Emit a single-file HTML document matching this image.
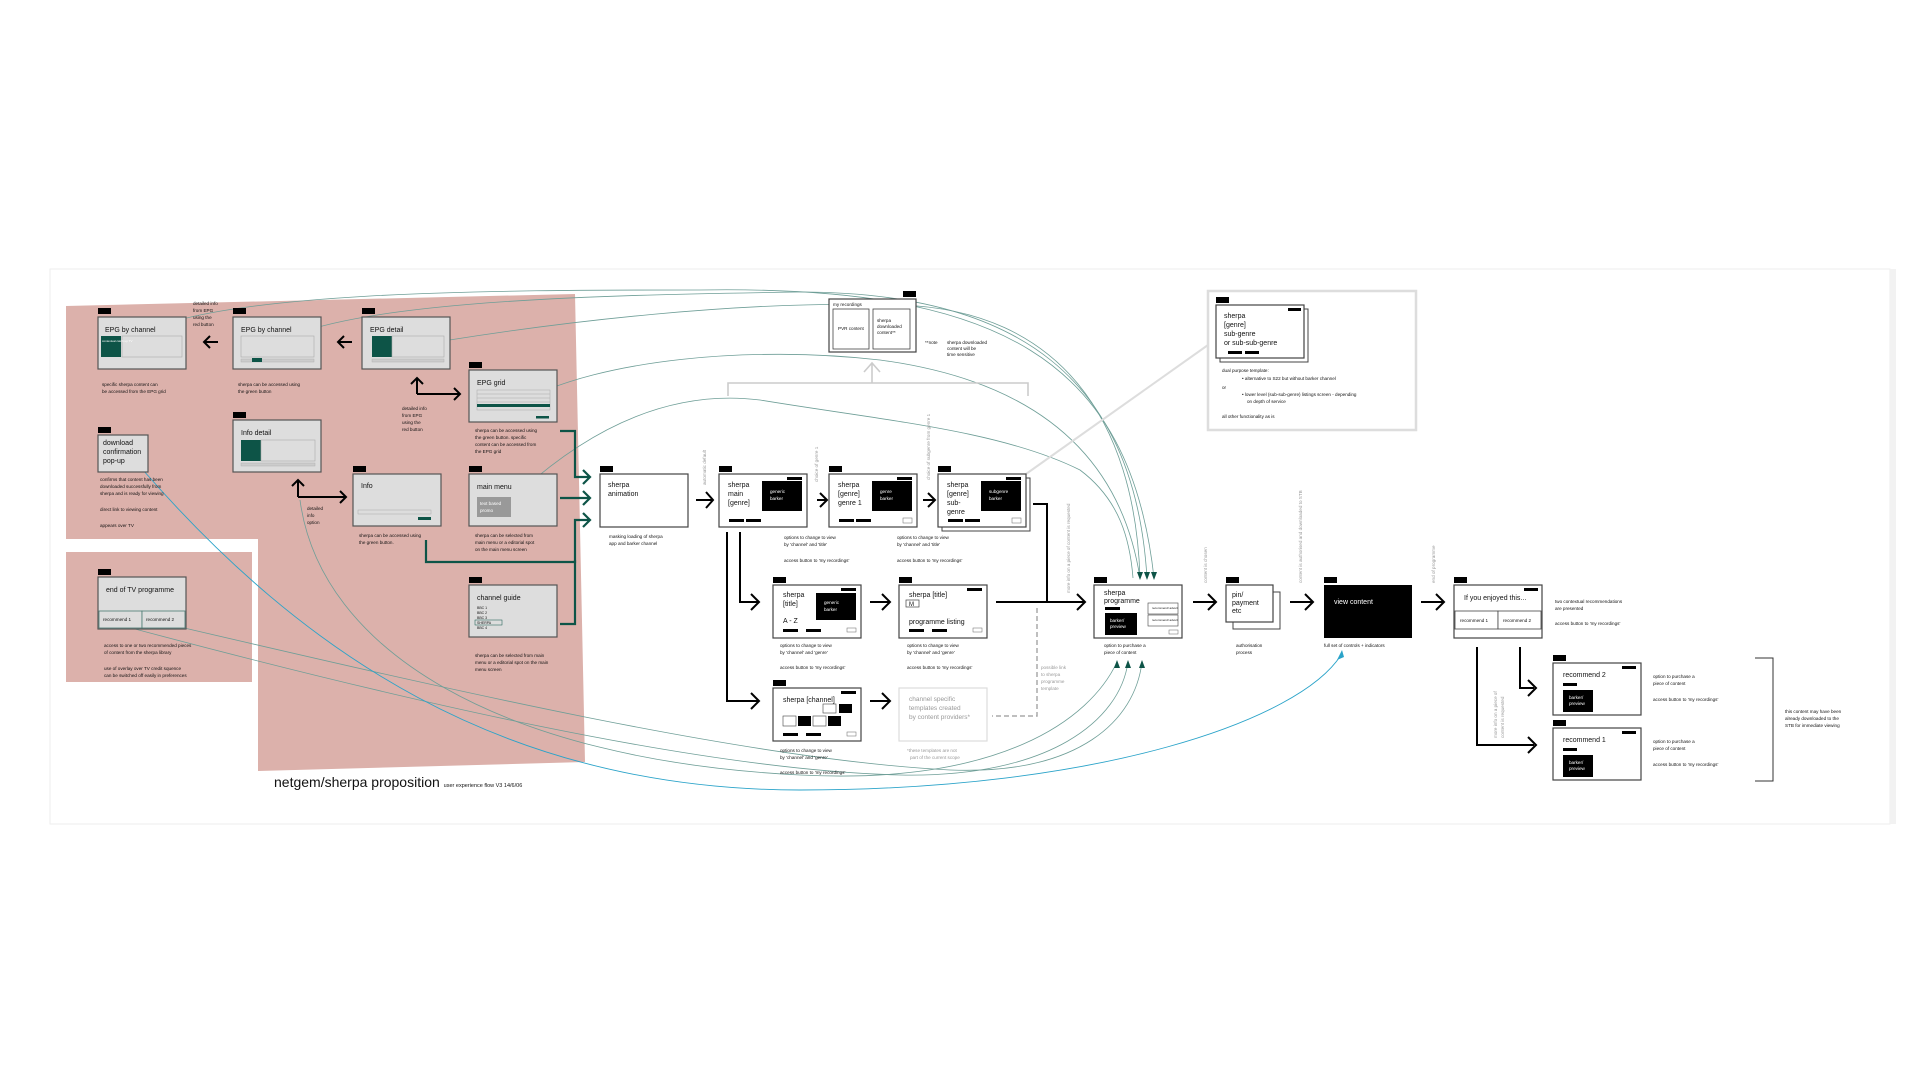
<!DOCTYPE html>
<html><head><meta charset="utf-8"><style>
html,body{margin:0;padding:0;background:#fff;}
svg{display:block;font-family:"Liberation Sans",sans-serif;}
.t{font-size:7px;fill:#111}
.d{font-size:4.6px;fill:#111}
.g{font-size:4.6px;fill:#999}
.tag{fill:#000}
.mb{fill:#ddd;stroke:#555;stroke-width:1.2}
.sb{fill:#fff;stroke:#444;stroke-width:1.2}
.ar{fill:none;stroke:#000;stroke-width:2}
.gr{fill:none;stroke:#0d5447;stroke-width:2.2}
.cv{fill:none;stroke:#6e9e97;stroke-width:0.8}
.bl{fill:none;stroke:#2aa3c9;stroke-width:0.9}
</style></head><body>
<svg width="1920" height="1080" viewBox="0 0 1920 1080">
<rect x="0" y="0" width="1920" height="1080" fill="#fff"/>
<rect x="50" y="269" width="1840" height="555" fill="#fff" stroke="#eee" stroke-width="1"/>
<rect x="1890" y="269" width="6" height="555" fill="#f2f2f2"/>
<!-- pink areas -->
<polygon points="66,306 575,294 585,762 258,771 258,539 66,539" fill="#dcb1ab"/>
<rect x="66" y="552" width="186" height="130" fill="#dcb1ab"/>

<!-- curves -->
<path class="cv" d="M130,340 C200,290 500,290 700,290 C1000,285 1130,360 1154,578"/>
<path class="cv" d="M258,360 C290,300 600,295 800,292 C1020,292 1135,380 1147,578"/>
<path class="cv" d="M390,350 C560,320 750,300 900,305 C1060,310 1135,420 1140,578"/>
<path class="cv" d="M525,400 C600,360 750,345 880,360 C1030,380 1120,450 1140,578"/>
<path class="cv" d="M522,490 C600,420 680,390 760,400 C880,420 1000,430 1080,470 C1120,500 1130,540 1133,578"/>
<path class="cv" d="M300,500 C320,650 500,760 800,775 C1000,785 1090,720 1117,662"/>
<path class="cv" d="M120,625 C400,700 700,770 900,775 C1050,778 1120,720 1128,662"/>
<path class="cv" d="M150,620 C450,690 750,760 950,770 C1080,775 1135,720 1142,662"/>
<path class="bl" d="M143,470 C300,650 500,790 800,790 C1100,790 1300,720 1341,655"/>
<polygon points="1137,572 1143,572 1140,580" fill="#0d5447"/>
<polygon points="1144,572 1150,572 1147,580" fill="#0d5447"/>
<polygon points="1151,572 1157,572 1154,580" fill="#0d5447"/>
<polygon points="1114,668 1120,668 1117,660" fill="#0d5447"/>
<polygon points="1125,668 1131,668 1128,660" fill="#0d5447"/>
<polygon points="1139,668 1145,668 1142,660" fill="#0d5447"/>
<polygon points="1337,660 1344,657 1342,650" fill="#2aa3c9"/>
<line x1="1026" y1="474" x2="1208" y2="345" stroke="#ddd" stroke-width="2"/>

<!-- M221 -->
<rect class="tag" x="98" y="308" width="13" height="6"/>
<rect class="mb" x="98" y="317" width="88" height="52"/>
<text class="t" x="105" y="332">EPG by channel</text>
<rect x="101" y="336" width="20" height="21" fill="#0d5447"/><rect x="122" y="336" width="60" height="21" fill="#ddd" stroke="#aaa" stroke-width=".6"/>
<text class="d" x="102" y="342" fill="#fff" style="fill:#fff;font-size:3px">contextual catch up TV</text>
<text class="d" x="102" y="386">specific sherpa content can</text><text class="d" x="102" y="393">be accessed from the EPG grid</text>
<text class="d" x="193" y="305">detailed info</text><text class="d" x="193" y="312">from EPG</text><text class="d" x="193" y="319">using the</text><text class="d" x="193" y="326">red button</text>
<!-- M22 -->
<rect class="tag" x="233" y="308" width="13" height="6"/>
<rect class="mb" x="233" y="317" width="88" height="52"/>
<text class="t" x="241" y="332">EPG by channel</text>
<rect x="241" y="336" width="73" height="21" fill="#ddd" stroke="#aaa" stroke-width=".6"/><rect x="241" y="359" width="73" height="3" fill="#ccc" stroke="#aaa" stroke-width=".4"/><rect x="252" y="358" width="10" height="4" fill="#0d5447"/>
<text class="d" x="238" y="386">sherpa can be accessed using</text><text class="d" x="238" y="393">the green button</text>
<!-- M21 -->
<rect class="tag" x="362" y="308" width="13" height="6"/>
<rect class="mb" x="362" y="317" width="88" height="52"/>
<text class="t" x="370" y="332">EPG detail</text>
<rect x="372" y="336" width="20" height="21" fill="#0d5447"/><rect x="392" y="336" width="52" height="21" fill="#ddd" stroke="#aaa" stroke-width=".6"/><rect x="372" y="359" width="72" height="3" fill="#ccc" stroke="#aaa" stroke-width=".4"/>
<!-- arrows left -->
<path class="ar" d="M218,342 H204 M210,336 L204,342 L210,348"/>
<path class="ar" d="M352,342 H338 M344,336 L338,342 L344,348"/>
<path class="ar" d="M417,394 V378 M411,384 L417,378 L423,384 M417,394 H460 M454,388 L460,394 L454,400"/>
<text class="d" x="402" y="410">detailed info</text><text class="d" x="402" y="417">from EPG</text><text class="d" x="402" y="424">using the</text><text class="d" x="402" y="431">red button</text>
<!-- M2 -->
<rect class="tag" x="469" y="362" width="13" height="6"/>
<rect class="mb" x="469" y="370" width="88" height="52"/>
<text class="t" x="477" y="385">EPG grid</text>
<rect x="477" y="390" width="73" height="20" fill="#ddd" stroke="#aaa" stroke-width=".5"/>
<line x1="477" y1="394" x2="550" y2="394" stroke="#aaa" stroke-width=".5"/><line x1="477" y1="398" x2="550" y2="398" stroke="#aaa" stroke-width=".5"/><line x1="477" y1="402" x2="550" y2="402" stroke="#aaa" stroke-width=".5"/>
<rect x="477" y="404" width="73" height="3" fill="#0d5447"/><rect x="536" y="416" width="13" height="2.5" fill="#0d5447"/>
<text class="d" x="475" y="432">sherpa can be accessed using</text><text class="d" x="475" y="439">the green button. specific</text><text class="d" x="475" y="446">content can be accessed from</text><text class="d" x="475" y="453">the EPG grid</text>
<!-- S241 -->
<rect class="tag" x="98" y="427" width="13" height="6"/>
<rect class="mb" x="98" y="435" width="50" height="37"/>
<text class="t" x="103" y="445">download</text><text class="t" x="103" y="454">confirmation</text><text class="t" x="103" y="463">pop-up</text>
<text class="d" x="100" y="481">confirms that content has been</text><text class="d" x="100" y="488">downloaded successfully from</text><text class="d" x="100" y="495">sherpa and is ready for viewing</text>
<text class="d" x="100" y="511">direct link to viewing content</text><text class="d" x="100" y="527">appears over TV</text>
<!-- M41 -->
<rect class="tag" x="233" y="412" width="13" height="6"/>
<rect class="mb" x="233" y="420" width="88" height="52"/>
<text class="t" x="241" y="435">Info detail</text>
<rect x="241" y="440" width="20" height="21" fill="#0d5447"/><rect x="261" y="440" width="54" height="21" fill="#ddd" stroke="#aaa" stroke-width=".6"/><rect x="241" y="463" width="74" height="3" fill="#ccc" stroke="#aaa" stroke-width=".4"/>
<path class="ar" d="M298,497 V480 M292,486 L298,480 L304,486 M298,497 H346 M340,491 L346,497 L340,503"/>
<text class="d" x="307" y="510">detailed</text><text class="d" x="307" y="517">info</text><text class="d" x="307" y="524">option</text>
<!-- M4 -->
<rect class="tag" x="353" y="466" width="13" height="6"/>
<rect class="mb" x="353" y="474" width="88" height="52"/>
<text class="t" x="361" y="488">Info</text>
<rect x="358" y="510" width="73" height="4" fill="#ddd" stroke="#aaa" stroke-width=".5"/><rect x="418" y="517" width="13" height="3" fill="#0d5447"/>
<text class="d" x="359" y="537">sherpa can be accessed using</text><text class="d" x="359" y="544">the green button.</text>
<!-- M1 -->
<rect class="tag" x="469" y="466" width="13" height="6"/>
<rect class="mb" x="469" y="474" width="88" height="52"/>
<text class="t" x="477" y="489">main menu</text>
<rect x="477" y="497" width="34" height="20" fill="#999"/>
<text class="d" x="480" y="505" style="fill:#fff">text based</text><text class="d" x="480" y="512" style="fill:#fff">promo</text>
<text class="d" x="475" y="537">sherpa can be selected from</text><text class="d" x="475" y="544">main menu or a editorial spot</text><text class="d" x="475" y="551">on the main menu screen</text>
<!-- M3 -->
<rect class="tag" x="469" y="577" width="13" height="6"/>
<rect class="mb" x="469" y="585" width="88" height="52"/>
<text class="t" x="477" y="600">channel guide</text>
<text class="d" x="477" y="609" style="font-size:3.5px">BBC 1</text><text class="d" x="477" y="614" style="font-size:3.5px">BBC 2</text><text class="d" x="477" y="619" style="font-size:3.5px">BBC 3</text><text class="d" x="477" y="624" style="font-size:3.5px">SHERPA</text><text class="d" x="477" y="629" style="font-size:3.5px">BBC 4</text>
<rect x="475" y="620" width="27" height="5" fill="none" stroke="#0d5447" stroke-width=".5"/>
<text class="d" x="475" y="657">sherpa can be selected from main</text><text class="d" x="475" y="664">menu or a editorial spot on the main</text><text class="d" x="475" y="671">menu screen</text>
<!-- M5 -->
<rect class="tag" x="98" y="569" width="13" height="6"/>
<rect class="mb" x="98" y="577" width="88" height="52"/>
<text class="t" x="106" y="592">end of TV programme</text>
<rect x="99" y="611" width="43" height="17" fill="#ddd" stroke="#4a7a72" stroke-width=".8"/><rect x="142" y="611" width="43" height="17" fill="#ddd" stroke="#4a7a72" stroke-width=".8"/>
<text class="d" x="103" y="621">recommend 1</text><text class="d" x="146" y="621">recommend 2</text>
<text class="d" x="104" y="647">access to one or two recommended pieces</text><text class="d" x="104" y="654">of content from the sherpa library</text>
<text class="d" x="104" y="670">use of overlay over TV credit squence</text><text class="d" x="104" y="677">can be switched off easily in preferences</text>

<!-- green connectors -->
<path class="gr" d="M560,431 H575 V477 H590 M583,470 L590,477 L583,484"/>
<path class="gr" d="M560,498 H590 M583,491 L590,498 L583,505"/>
<path class="gr" d="M426,540 V562 H575 V520 H590 M583,513 L590,520 L583,527"/>
<path class="gr" d="M560,624 H575 V560"/>

<!-- S1 -->
<rect class="tag" x="600" y="466" width="13" height="6"/>
<rect class="sb" x="600" y="474" width="88" height="53"/>
<text class="t" x="608" y="487">sherpa</text><text class="t" x="608" y="496">animation</text>
<text class="d" x="609" y="538">masking loading of sherpa</text><text class="d" x="609" y="545">app and barker channel</text>
<path class="ar" d="M696,500 H713 M706,492 L713,500 L706,508"/>
<text class="g" transform="translate(706,485) rotate(-90)">automatic default</text>
<!-- S2 -->
<rect class="tag" x="719" y="466" width="13" height="6"/>
<rect class="sb" x="719" y="474" width="88" height="53"/>
<text class="t" x="728" y="487">sherpa</text><text class="t" x="728" y="496">main</text><text class="t" x="728" y="505">[genre]</text>
<rect x="762" y="481" width="40" height="30" fill="#000"/><text class="d" x="770" y="493" style="fill:#fff">generic</text><text class="d" x="770" y="500" style="fill:#fff">barker</text>
<rect x="787" y="477" width="15" height="3" fill="#000"/>
<rect x="729" y="519" width="15" height="3" fill="#000"/><rect x="746" y="519" width="15" height="3" fill="#000"/>
<path class="ar" d="M817,500 H826 M820,493 L827,500 L820,507"/>
<text class="g" transform="translate(818,482) rotate(-90)">choice of genre 1</text>
<!-- S21 -->
<rect class="tag" x="829" y="466" width="13" height="6"/>
<rect class="sb" x="829" y="474" width="88" height="53"/>
<text class="t" x="838" y="487">sherpa</text><text class="t" x="838" y="496">[genre]</text><text class="t" x="838" y="505">genre 1</text>
<rect x="872" y="481" width="40" height="30" fill="#000"/><text class="d" x="880" y="493" style="fill:#fff">genre</text><text class="d" x="880" y="500" style="fill:#fff">barker</text>
<rect x="897" y="477" width="15" height="3" fill="#000"/>
<rect x="839" y="519" width="15" height="3" fill="#000"/><rect x="856" y="519" width="15" height="3" fill="#000"/><rect x="903" y="518" width="9" height="5" fill="#fff" stroke="#666" stroke-width=".5"/>
<text class="d" x="784" y="539">options to change to view</text><text class="d" x="784" y="546">by 'channel' and 'title'</text><text class="d" x="784" y="562">access button to 'my recordings'</text>
<text class="d" x="897" y="539">options to change to view</text><text class="d" x="897" y="546">by 'channel' and 'title'</text><text class="d" x="897" y="562">access button to 'my recordings'</text>
<path class="ar" d="M923,500 H934 M928,493 L935,500 L928,507"/>
<text class="g" transform="translate(930,480) rotate(-90)">choice of subgenre from genre 1</text>
<!-- S22 -->
<rect x="942" y="478" width="88" height="53" fill="#fff" stroke="#444" stroke-width="1"/>
<rect class="tag" x="938" y="466" width="13" height="6"/>
<rect class="sb" x="938" y="474" width="88" height="53"/>
<text class="t" x="947" y="487">sherpa</text><text class="t" x="947" y="496">[genre]</text><text class="t" x="947" y="505">sub-</text><text class="t" x="947" y="514">genre</text>
<rect x="981" y="481" width="40" height="30" fill="#000"/><text class="d" x="989" y="493" style="fill:#fff">subgenre</text><text class="d" x="989" y="500" style="fill:#fff">barker</text>
<rect x="1006" y="477" width="15" height="3" fill="#000"/>
<rect x="948" y="519" width="15" height="3" fill="#000"/><rect x="965" y="519" width="15" height="3" fill="#000"/><rect x="1012" y="518" width="9" height="5" fill="#fff" stroke="#666" stroke-width=".5"/>
<path class="ar" d="M1033,504 H1047 V602"/>
<text class="g" transform="translate(1070,593) rotate(-90)">more info on a piece of content is requested</text>

<!-- M6 -->
<rect class="tag" x="903" y="291" width="13" height="6"/>
<rect class="sb" x="829" y="299" width="87" height="53"/>
<text class="d" x="833" y="306">my recordings</text>
<rect x="833" y="309" width="36" height="40" fill="#fff" stroke="#444" stroke-width=".8"/><rect x="873" y="309" width="37" height="40" fill="#fff" stroke="#444" stroke-width=".8"/>
<text class="d" x="838" y="330">PVR content</text><text class="d" x="877" y="322">sherpa</text><text class="d" x="877" y="328">downloaded</text><text class="d" x="877" y="334">content**</text>
<text class="d" x="925" y="344">**note</text><text class="d" x="947" y="344">sherpa downloaded</text><text class="d" x="947" y="350">content will be</text><text class="d" x="947" y="356">time sensitive</text>
<path d="M728,396 V383 H1028 V396 M872,383 V363 M864,372 L872,363 L880,372" fill="none" stroke="#ccc" stroke-width="1.6"/>

<!-- S221 panel -->
<rect x="1208" y="291" width="208" height="139" fill="#fff" stroke="#ddd" stroke-width="2.5"/>
<rect class="tag" x="1216" y="297" width="13" height="6"/>
<rect x="1220" y="309" width="88" height="53" fill="#fff" stroke="#444"/>
<rect class="sb" x="1216" y="305" width="88" height="53"/>
<text class="t" x="1224" y="318">sherpa</text><text class="t" x="1224" y="327">[genre]</text><text class="t" x="1224" y="336">sub-genre</text><text class="t" x="1224" y="345">or sub-sub-genre</text>
<rect x="1288" y="308" width="13" height="3" fill="#000"/><rect x="1228" y="351" width="14" height="3" fill="#000"/><rect x="1245" y="351" width="14" height="3" fill="#000"/>
<text class="d" x="1222" y="372">dual purpose template:</text>
<text class="d" x="1242" y="380">• alternative to S22 but without barker channel</text>
<text class="d" x="1222" y="389">or</text>
<text class="d" x="1242" y="396">• lower level (sub-sub-genre) listings screen - depending</text>
<text class="d" x="1247" y="403">on depth of service</text>
<text class="d" x="1222" y="418">all other functionality as is</text>

<!-- S2 branches -->
<path class="ar" d="M740,532 V602 H758 M751,594 L759,602 L751,610"/>
<path class="ar" d="M727,532 V701 H758 M751,693 L759,701 L751,709"/>
<!-- S3 -->
<rect class="tag" x="773" y="577" width="13" height="6"/>
<rect class="sb" x="773" y="585" width="88" height="53"/>
<text class="t" x="783" y="597">sherpa</text><text class="t" x="783" y="606">[title]</text><text class="t" x="783" y="623">A - Z</text>
<rect x="816" y="593" width="40" height="27" fill="#000"/><text class="d" x="824" y="604" style="fill:#fff">generic</text><text class="d" x="824" y="611" style="fill:#fff">barker</text>
<rect x="841" y="588" width="15" height="3" fill="#000"/><rect x="783" y="629" width="15" height="3" fill="#000"/><rect x="806" y="629" width="15" height="3" fill="#000"/><rect x="847" y="628" width="9" height="4" fill="#fff" stroke="#666" stroke-width=".5"/>
<text class="d" x="780" y="647">options to change to view</text><text class="d" x="780" y="654">by 'channel' and 'genre'</text><text class="d" x="780" y="669">access button to 'my recordings'</text>
<path class="ar" d="M870,602 H889 M882,594 L890,602 L882,610"/>
<!-- S31 -->
<rect class="tag" x="899" y="577" width="13" height="6"/>
<rect class="sb" x="899" y="585" width="88" height="53"/>
<text class="t" x="909" y="597">sherpa [title]</text>
<rect x="906" y="600" width="13" height="7" fill="#fff" stroke="#444" stroke-width=".7"/><text class="d" x="909" y="606" style="font-size:6px">M</text>
<text class="t" x="909" y="624">programme listing</text>
<rect x="967" y="588" width="15" height="3" fill="#000"/><rect x="909" y="629" width="15" height="3" fill="#000"/><rect x="932" y="629" width="15" height="3" fill="#000"/><rect x="973" y="628" width="9" height="4" fill="#fff" stroke="#666" stroke-width=".5"/>
<text class="d" x="907" y="647">options to change to view</text><text class="d" x="907" y="654">by 'channel' and 'genre'</text><text class="d" x="907" y="669">access button to 'my recordings'</text>
<path class="ar" d="M996,602 H1085 M1077,594 L1085,602 L1077,610"/>
<path d="M1037,608 V716 H992" fill="none" stroke="#aaa" stroke-width="1.5" stroke-dasharray="5,3"/>
<text class="g" x="1041" y="669">possible link</text><text class="g" x="1041" y="676">to sherpa</text><text class="g" x="1041" y="683">programme</text><text class="g" x="1041" y="690">template</text>
<!-- S4 -->
<rect class="tag" x="773" y="680" width="13" height="6"/>
<rect class="sb" x="773" y="688" width="88" height="53"/>
<text class="t" x="783" y="702">sherpa [channel]</text>
<rect x="841" y="691" width="15" height="3" fill="#000"/>
<rect x="823" y="704" width="13" height="9" fill="#fff" stroke="#444" stroke-width=".6"/><rect x="839" y="704" width="13" height="9" fill="#000"/>
<rect x="783" y="716" width="13" height="10" fill="#fff" stroke="#444" stroke-width=".6"/><rect x="798" y="716" width="13" height="10" fill="#000"/><rect x="813" y="716" width="13" height="10" fill="#fff" stroke="#444" stroke-width=".6"/><rect x="828" y="716" width="13" height="10" fill="#000"/>
<rect x="783" y="733" width="15" height="3" fill="#000"/><rect x="806" y="733" width="15" height="3" fill="#000"/><rect x="847" y="732" width="9" height="4" fill="#fff" stroke="#666" stroke-width=".5"/>
<text class="d" x="780" y="752">options to change to view</text><text class="d" x="780" y="759">by 'channel' and 'genre'</text><text class="d" x="780" y="774">access button to 'my recordings'</text>
<path class="ar" d="M870,701 H889 M882,693 L890,701 L882,709"/>
<rect x="899" y="688" width="88" height="53" fill="#fff" stroke="#ddd" stroke-width="1.2"/>
<text class="g" x="909" y="701" style="font-size:6.5px">channel specific</text><text class="g" x="909" y="710" style="font-size:6.5px">templates created</text><text class="g" x="909" y="719" style="font-size:6.5px">by content providers*</text>
<text class="g" x="907" y="752">*these templates are not</text><text class="g" x="910" y="759">part of the current scope</text>

<!-- S23 -->
<rect class="tag" x="1094" y="577" width="13" height="6"/>
<rect class="sb" x="1094" y="585" width="88" height="53"/>
<text class="t" x="1104" y="595">sherpa</text><text class="t" x="1104" y="603">programme</text>
<rect x="1105" y="607" width="15" height="3" fill="#000"/>
<rect x="1105" y="613" width="32" height="22" fill="#000"/><text class="d" x="1110" y="622" style="fill:#fff">barker/</text><text class="d" x="1110" y="628" style="fill:#fff">preview</text>
<rect x="1148" y="603" width="30" height="11" fill="#fff" stroke="#444" stroke-width=".6"/><rect x="1148" y="615" width="30" height="11" fill="#fff" stroke="#444" stroke-width=".6"/>
<text class="d" x="1152" y="609" style="font-size:3px">recommend/ advert</text><text class="d" x="1152" y="621" style="font-size:3px">recommend/ advert</text>
<rect x="1169" y="630" width="9" height="4" fill="#fff" stroke="#666" stroke-width=".5"/>
<text class="d" x="1104" y="647">option to purchase a</text><text class="d" x="1104" y="654">piece of content</text>
<path class="ar" d="M1193,602 H1215 M1208,594 L1216,602 L1208,610"/>
<text class="g" transform="translate(1207,583) rotate(-90)">content is chosen</text>
<!-- S24 -->
<rect class="tag" x="1226" y="577" width="13" height="6"/>
<rect x="1233" y="592" width="47" height="37" fill="#fff" stroke="#444"/>
<rect class="sb" x="1226" y="585" width="47" height="37"/>
<text class="t" x="1232" y="597">pin/</text><text class="t" x="1232" y="605">payment</text><text class="t" x="1232" y="613">etc</text>
<text class="d" x="1236" y="647">authorisation</text><text class="d" x="1236" y="654">process</text>
<path class="ar" d="M1290,602 H1312 M1305,594 L1313,602 L1305,610"/>
<text class="g" transform="translate(1302,583) rotate(-90)">content is authorised and downloaded to STB</text>
<!-- S25 -->
<rect class="tag" x="1324" y="577" width="13" height="6"/>
<rect x="1324" y="585" width="88" height="53" fill="#000"/>
<text class="t" x="1334" y="604" style="fill:#fff">view content</text>
<text class="d" x="1324" y="647">full set of controls + indicators</text>
<path class="ar" d="M1421,602 H1443 M1436,594 L1444,602 L1436,610"/>
<text class="g" transform="translate(1435,583) rotate(-90)">end of programme</text>
<!-- S26 -->
<rect class="tag" x="1454" y="577" width="13" height="6"/>
<rect class="sb" x="1454" y="585" width="88" height="53"/>
<text class="t" x="1464" y="600">If you enjoyed this...</text>
<rect x="1524" y="588" width="14" height="3" fill="#000"/>
<rect x="1455" y="611" width="43" height="18" fill="#fff" stroke="#444" stroke-width=".8"/><rect x="1498" y="611" width="43" height="18" fill="#fff" stroke="#444" stroke-width=".8"/>
<text class="d" x="1460" y="622">recommend 1</text><text class="d" x="1503" y="622">recommend 2</text>
<text class="d" x="1555" y="603">two contextual recommendations</text><text class="d" x="1555" y="610">are presented</text><text class="d" x="1555" y="625">access button to 'my recordings'</text>
<path class="ar" d="M1520,647 V688 H1534 M1528,680 L1536,688 L1528,696"/>
<path class="ar" d="M1477,647 V745 H1534 M1528,737 L1536,745 L1528,753"/>
<text class="g" transform="translate(1497,738) rotate(-90)">more info on a piece of</text><text class="g" transform="translate(1504,738) rotate(-90)">content is requested</text>
<!-- S28 -->
<rect class="tag" x="1553" y="655" width="13" height="6"/>
<rect class="sb" x="1553" y="663" width="88" height="52"/>
<text class="t" x="1563" y="677">recommend 2</text>
<rect x="1622" y="666" width="14" height="3" fill="#000"/><rect x="1563" y="683" width="14" height="3" fill="#000"/>
<rect x="1563" y="690" width="30" height="22" fill="#000"/><text class="d" x="1569" y="699" style="fill:#fff">barker/</text><text class="d" x="1569" y="705" style="fill:#fff">preview</text>
<text class="d" x="1653" y="678">option to purchase a</text><text class="d" x="1653" y="685">piece of content</text><text class="d" x="1653" y="701">access button to 'my recordings'</text>
<!-- S27 -->
<rect class="tag" x="1553" y="720" width="13" height="6"/>
<rect class="sb" x="1553" y="728" width="88" height="52"/>
<text class="t" x="1563" y="742">recommend 1</text>
<rect x="1622" y="731" width="14" height="3" fill="#000"/><rect x="1563" y="748" width="14" height="3" fill="#000"/>
<rect x="1563" y="755" width="30" height="22" fill="#000"/><text class="d" x="1569" y="764" style="fill:#fff">barker/</text><text class="d" x="1569" y="770" style="fill:#fff">preview</text>
<text class="d" x="1653" y="743">option to purchase a</text><text class="d" x="1653" y="750">piece of content</text><text class="d" x="1653" y="766">access button to 'my recordings'</text>
<path d="M1755,658 H1773 V781 H1755" fill="none" stroke="#333" stroke-width="1"/>
<text class="d" x="1785" y="713">this content may have been</text><text class="d" x="1785" y="720">already downloaded to the</text><text class="d" x="1785" y="727">STB for immediate viewing</text>

<!-- title -->
<text x="274" y="787" style="font-size:14px;fill:#111">netgem/sherpa proposition <tspan style="font-size:5.5px">user experience flow V3 14/6/06</tspan></text>
</svg>
</body></html>
